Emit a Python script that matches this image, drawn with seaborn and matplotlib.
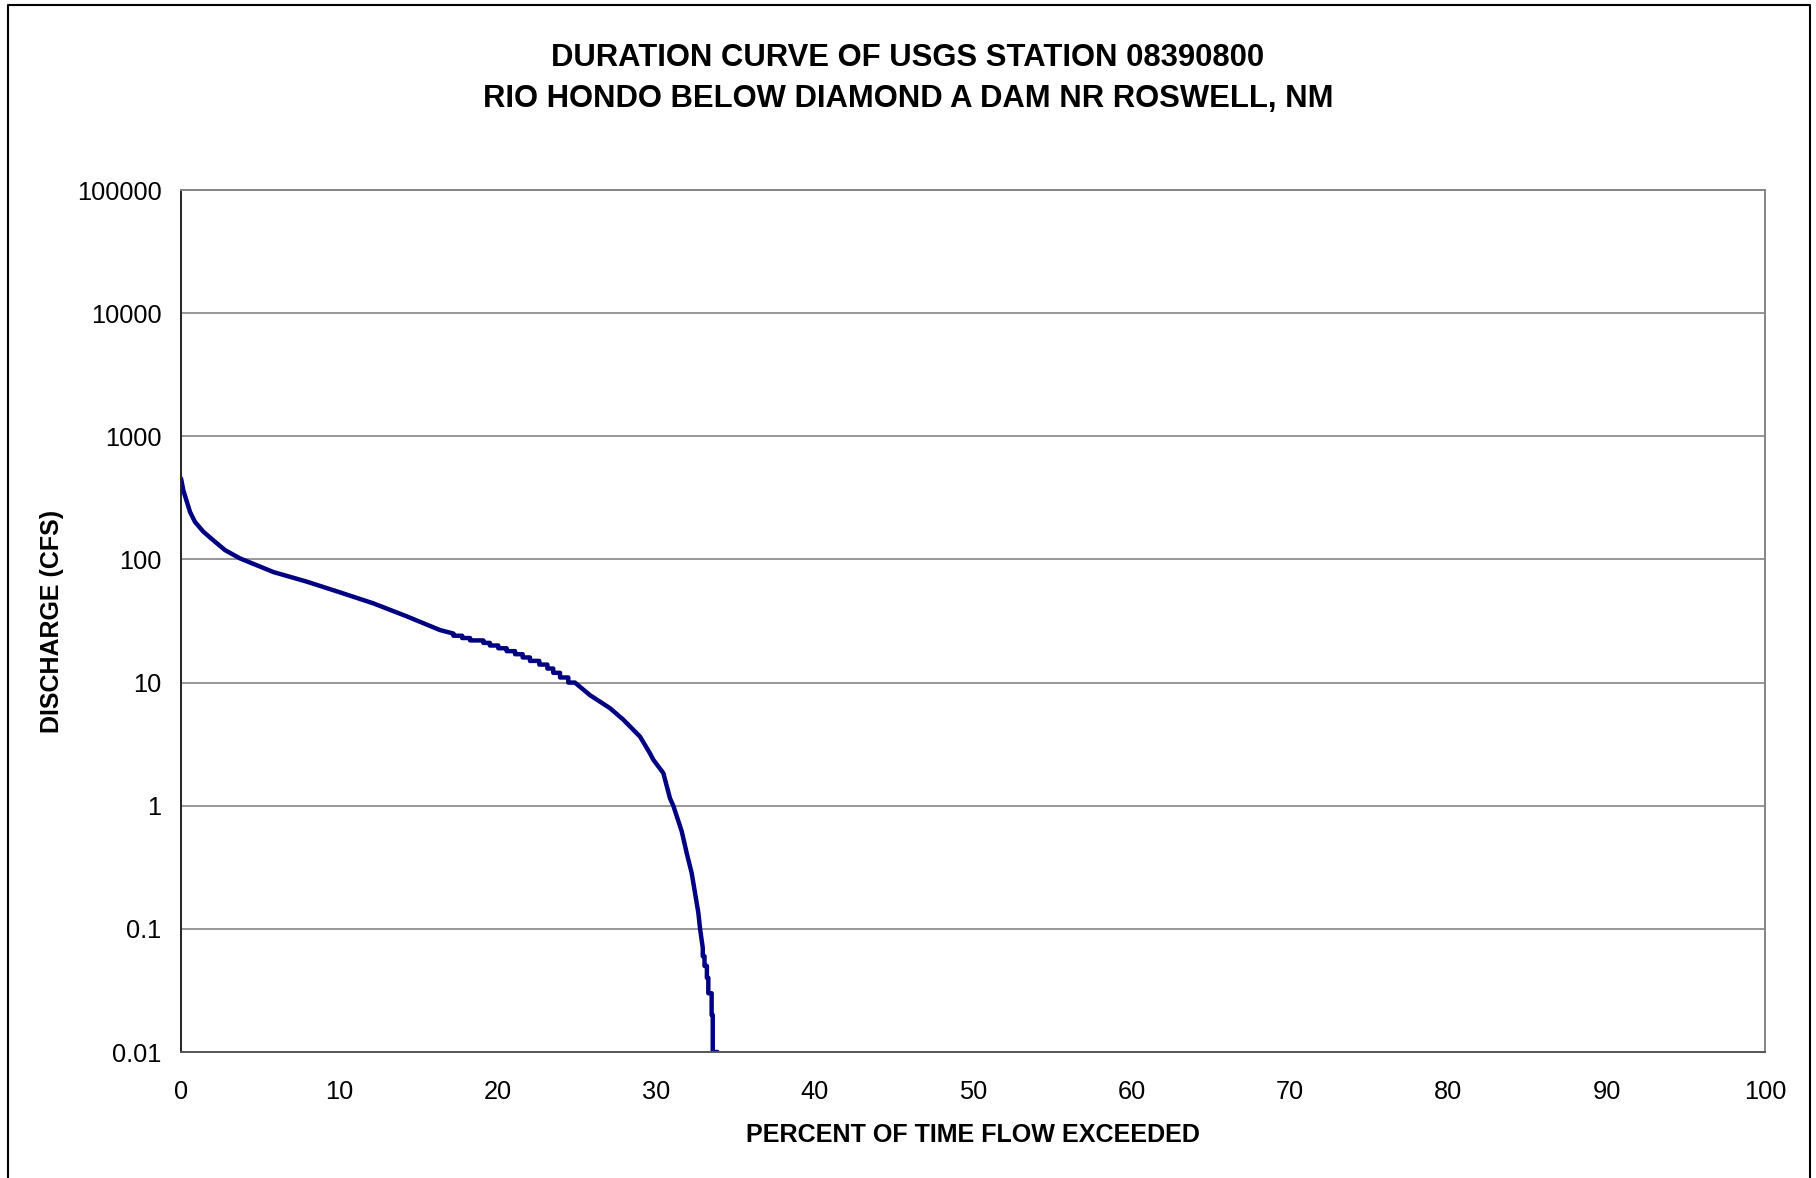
import numpy as np
import pandas as pd
import matplotlib
matplotlib.use("Agg")
import matplotlib.pyplot as plt
from matplotlib.lines import Line2D
import seaborn as sns

# Flow-duration readings: percent of time exceeded vs. daily discharge (cfs)
high_flow_pct = [0.0, 0.15, 0.57, 0.88, 1.41, 2.04, 2.78, 3.72, 5.83, 7.94,
                 10.04, 12.14, 14.25, 16.35, 17.2]
high_flow_cfs = [455, 363, 243, 202, 168, 143, 119, 102, 79, 66,
                 54, 44, 34.5, 26.7, 25]

# Integer-valued plateaus in the mid range (level, percent where it ends)
mid_step_cfs = [24, 23, 22, 21, 20, 19, 18, 17, 16, 15, 14, 13, 12, 11, 10]
mid_step_end = [17.75, 18.25, 19.09, 19.5, 20.03, 20.56, 21.09, 21.57,
                22.03, 22.62, 23.13, 23.5, 23.93, 24.45, 24.87]

low_flow_pct = [25.82, 27.08, 27.92, 28.98, 29.6, 29.82, 30.45, 30.87,
                31.08, 31.61, 31.93, 32.24, 32.45, 32.66, 32.77, 32.94]
low_flow_cfs = [7.9, 6.2, 5.0, 3.64, 2.67, 2.36, 1.84, 1.15,
                1.0, 0.62, 0.41, 0.284, 0.196, 0.135, 0.10, 0.07]

# Gauge-resolution plateaus at the dry end
tail_step_cfs = [0.06, 0.05, 0.04, 0.03, 0.02, 0.01]
tail_step_end = [33.05, 33.2, 33.29, 33.5, 33.57, 33.87]

y_ticks = [0.01, 0.1, 1, 10, 100, 1000, 10000, 100000]
y_tick_labels = ["0.01", "0.1", "1", "10", "100", "1000", "10000", "100000"]
x_ticks = [0, 10, 20, 30, 40, 50, 60, 70, 80, 90, 100]


def steps(start, levels, ends):
    xs, ys = [], []
    x0 = start
    for v, x1 in zip(levels, ends):
        xs += [x0, x1]
        ys += [v, v]
        x0 = x1
    return xs, ys


mx, my = steps(high_flow_pct[-1], mid_step_cfs, mid_step_end)
tx, ty = steps(low_flow_pct[-1], tail_step_cfs, tail_step_end)
pct = high_flow_pct + mx + low_flow_pct + tx
cfs = high_flow_cfs + my + low_flow_cfs + ty
df = pd.DataFrame({"pct": pct, "cfs": cfs})

sns.set_style("white")
plt.rcParams["font.family"] = ["Liberation Sans", "DejaVu Sans"]
plt.rcParams["text.color"] = "black"
plt.rcParams["axes.labelcolor"] = "black"

W, H = 1816, 1178
fig = plt.figure(figsize=(W / 100, H / 100), dpi=100)
ax = fig.add_axes([181 / W, 1 - 1052 / H, 1584 / W, 862 / H])

sns.lineplot(data=df, x="pct", y="cfs", sort=False, estimator=None,
             color="#000080", linewidth=3.2, ax=ax)

ax.set_yscale("log")
ax.set_xlim(0, 100)
ax.set_ylim(0.01, 100000)
ax.set_yticks(y_ticks)
ax.set_yticklabels(y_tick_labels)
ax.yaxis.set_minor_locator(matplotlib.ticker.NullLocator())
ax.set_xticks(x_ticks)
ax.set_xticklabels([str(v) for v in x_ticks])

ax.grid(False)
for v in y_ticks[1:]:
    ax.axhline(v, color="#858585", linewidth=1.2, zorder=0)

ax.tick_params(axis="both", which="major", direction="out", length=6,
               width=1.0, color="#333333", labelsize=18.3, labelcolor="black")
ax.tick_params(axis="x", pad=14)
ax.tick_params(axis="y", pad=8)

ax.spines["left"].set_color("#222222")
ax.spines["left"].set_linewidth(1.4)
ax.spines["bottom"].set_color("#555555")
ax.spines["bottom"].set_linewidth(1.4)
for s in ("top", "right"):
    ax.spines[s].set_color("#858585")
    ax.spines[s].set_linewidth(1.4)

ax.set_xlabel("PERCENT OF TIME FLOW EXCEEDED", fontsize=18.1,
              fontweight="bold", color="black")
ax.set_ylabel("DISCHARGE (CFS)", fontsize=18.0, fontweight="bold",
              color="black")
ax.xaxis.set_label_coords(0.5, (1052 - 1135) / 862)
ax.xaxis.label.set_va("center")
ax.yaxis.set_label_coords((52 - 181) / 1584, 0.5)
ax.yaxis.label.set_va("center")

fig.text(0.5, 1 - 57.5 / H, "DURATION CURVE OF USGS STATION 08390800",
         ha="center", va="center", fontsize=22.3, fontweight="bold",
         color="black")
fig.text(0.5, 1 - 98.5 / H, "RIO HONDO BELOW DIAMOND A DAM NR ROSWELL, NM",
         ha="center", va="center", fontsize=22.3, fontweight="bold",
         color="black")

# Chart-area frame (left, top, right edges)
fx0, fx1, fy1 = 7.5 / W, 1810 / W, 1 - 4.5 / H
fig.add_artist(Line2D([fx0, fx0, fx1, fx1], [0, fy1, fy1, 0],
                      transform=fig.transFigure, color="black", linewidth=1.5))

fig.savefig("out.png", dpi=100, facecolor="white")
